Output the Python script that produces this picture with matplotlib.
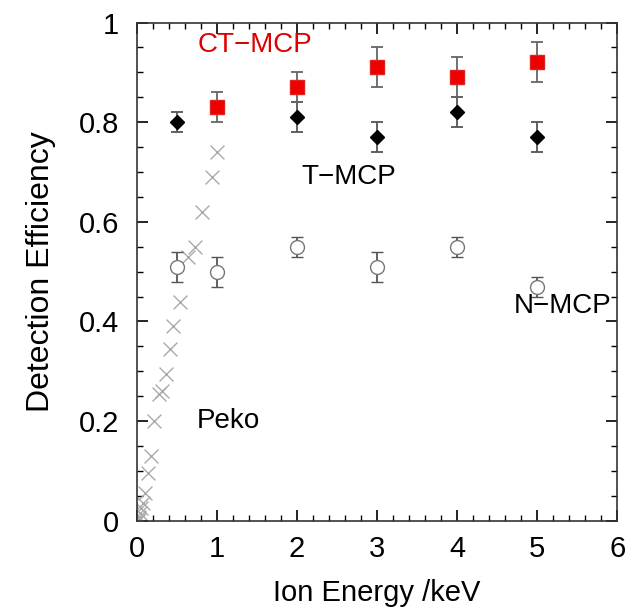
import matplotlib
matplotlib.use("Agg")
import matplotlib.pyplot as plt
from matplotlib.ticker import MultipleLocator

plt.rcParams['font.family'] = ['Liberation Sans', 'DejaVu Sans']

# CT-MCP (rojo)
ct_x = [1, 2, 3, 4, 5]
ct_y = [0.83, 0.87, 0.91, 0.89, 0.92]
ct_err = [0.03, 0.03, 0.04, 0.04, 0.04]

# T-MCP (negro)
t_x = [0.5, 2, 3, 4, 5]
t_y = [0.80, 0.81, 0.77, 0.82, 0.77]
t_err = [0.02, 0.03, 0.03, 0.03, 0.03]

# N-MCP (circulos abiertos)
n_x = [0.5, 1, 2, 3, 4, 5]
n_y = [0.51, 0.50, 0.55, 0.51, 0.55, 0.47]
n_err = [0.03, 0.03, 0.02, 0.03, 0.02, 0.02]

# Peko (cruces)
peko_x = [1.0, 0.94, 0.81, 0.72, 0.64, 0.54, 0.45, 0.41, 0.36, 0.31, 0.27,
          0.21, 0.17, 0.14, 0.10, 0.07, 0.05, 0.04, 0.03, 0.02, 0.01]
peko_y = [0.74, 0.69, 0.62, 0.55, 0.53, 0.44, 0.39, 0.345, 0.295, 0.26, 0.255,
          0.20, 0.13, 0.095, 0.055, 0.035, 0.025, 0.015, 0.008, 0.003, 0.0]

fig = plt.figure(figsize=(6.43, 6.09), dpi=100)
ax = fig.add_axes([0.213, 0.145, 0.747, 0.818])

ax.scatter(peko_x, peko_y, marker='x', s=100, color='#aaaaaa', linewidths=1.0, zorder=2)

ax.errorbar(n_x, n_y, yerr=n_err, fmt='o', ms=10, mfc='white', mec='#777777',
            mew=1.0, ecolor='#555555', elinewidth=1.3, capsize=4, capthick=1.3, zorder=3)
ax.errorbar(t_x, t_y, yerr=t_err, fmt='D', ms=7, color='black',
            ecolor='#555555', elinewidth=1.3, capsize=4, capthick=1.3, zorder=4)
ax.errorbar(ct_x, ct_y, yerr=ct_err, fmt='s', ms=10, mfc='#ee0000', mec='#dd2222',
            ecolor='#666666', elinewidth=1.3, capsize=4, capthick=1.3, zorder=5)

ax.text(1.48, 0.955, 'CT\u2212MCP', color='#dd0000', fontsize=20, ha='center', va='center')
ax.text(2.64, 0.69, 'T\u2212MCP', color='black', fontsize=20, ha='center', va='center')
ax.text(5.32, 0.43, 'N\u2212MCP', color='black', fontsize=20, ha='center', va='center')
ax.text(1.14, 0.20, 'Peko', color='black', fontsize=20, ha='center', va='center')

ax.set_xlim(0, 6)
ax.set_ylim(0, 1)
ax.xaxis.set_major_locator(MultipleLocator(1))
ax.xaxis.set_minor_locator(MultipleLocator(0.2))
ax.yaxis.set_major_locator(MultipleLocator(0.2))
ax.yaxis.set_minor_locator(MultipleLocator(0.05))
ax.set_yticks([0, 0.2, 0.4, 0.6, 0.8, 1.0])
ax.set_yticklabels(['0', '0.2', '0.4', '0.6', '0.8', '1'])
ax.tick_params(which='both', direction='in', top=True, right=True, labelsize=21)
ax.tick_params(axis='y', pad=13)
ax.tick_params(axis='x', pad=10)
ax.tick_params(which='major', length=8, width=1.2)
ax.tick_params(which='minor', length=4, width=1.0)
for s in ax.spines.values():
    s.set_linewidth(1.2)
    s.set_color('#333333')

ax.set_xlabel('Ion Energy /keV', fontsize=21, labelpad=12)
ax.set_ylabel('Detection Efficiency', fontsize=23, labelpad=16)

fig.savefig('out.png', dpi=100)
